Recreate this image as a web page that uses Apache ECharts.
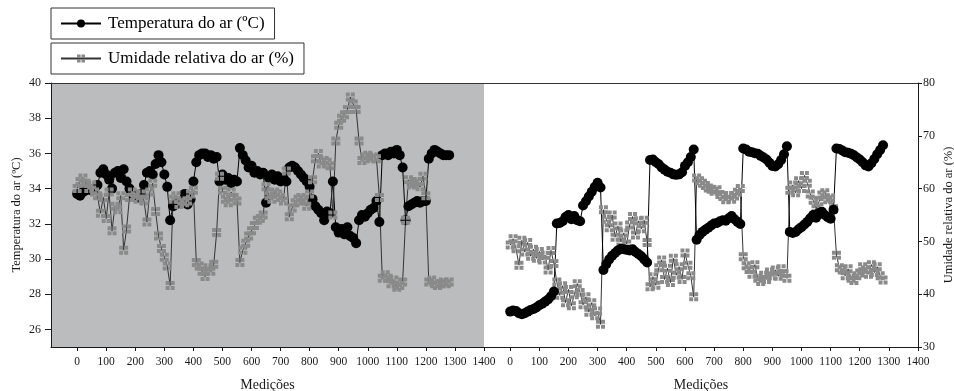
<!DOCTYPE html>
<html>
<head>
<meta charset="utf-8">
<script src="https://cdn.jsdelivr.net/npm/echarts@6/dist/echarts.min.js"></script>
<style>
  html, body { margin: 0; padding: 0; background: #fff; }
  #chart { width: 954px; height: 391px; }
</style>
</head>
<body>
<div id="chart"></div>
<script>
// measurement index (every 10th reading)
const XS = [
  0, 10, 20, 30, 40, 50, 60, 70, 80, 90,
  100, 110, 120, 130, 140, 150, 160, 170, 180, 190,
  200, 210, 220, 230, 240, 250, 260, 270, 280, 290,
  300, 310, 320, 330, 340, 350, 360, 370, 380, 390,
  400, 410, 420, 430, 440, 450, 460, 470, 480, 490,
  500, 510, 520, 530, 540, 550, 560, 570, 580, 590,
  600, 610, 620, 630, 640, 650, 660, 670, 680, 690,
  700, 710, 720, 730, 740, 750, 760, 770, 780, 790,
  800, 810, 820, 830, 840, 850, 860, 870, 880, 890,
  900, 910, 920, 930, 940, 950, 960, 970, 980, 990,
  1000, 1010, 1020, 1030, 1040, 1050, 1060, 1070, 1080, 1090,
  1100, 1110, 1120, 1130, 1140, 1150, 1160, 1170, 1180, 1190,
  1200, 1210, 1220, 1230, 1240, 1250, 1260, 1270, 1280
];

// left panel (grey), both on the left axis
const tempA = [
  33.7, 33.6, 33.8, 33.9, 34.0, 33.9, 34.0, 34.2, 34.9, 35.1,
  34.8, 34.5, 34.0, 34.9, 35.0, 34.6, 35.1, 34.4, 34.0, 33.7,
  33.6, 33.5, 33.7, 34.2, 34.9, 35.0, 34.8, 35.4, 35.9, 35.5,
  34.8, 34.1, 32.2, 33.0, 33.1, 33.2, 33.3, 33.7, 33.1, 33.4,
  34.4, 35.5, 35.9, 36.0, 36.0, 35.8, 35.9, 35.7, 35.8, 34.4,
  34.8, 34.5, 34.6, 34.3, 34.5, 34.4, 36.3, 35.9, 35.6, 35.2,
  35.3, 34.9, 35.0, 34.8, 34.9, 33.2, 34.6, 34.8, 34.5, 34.7,
  34.4, 34.6, 34.4, 35.2, 35.3, 35.2, 35.0, 34.8, 34.6, 34.4,
  34.1, 33.4, 33.0, 32.8, 32.6, 32.2, 32.7, 32.6, 34.4, 31.8,
  31.5, 31.7, 31.4, 31.8, 31.3, 31.2, 30.9, 32.2, 32.5, 32.4,
  32.6, 32.8, 32.9, 33.3, 32.1, 35.9, 36.0, 35.9, 36.1, 36.0,
  36.2, 35.9, 35.2, 32.2, 33.0, 33.1, 33.2, 33.3, 33.2, 33.3,
  33.3, 35.7, 36.0, 36.2, 36.1, 36.0, 35.9, 35.9, 35.9
];
const humA = [
  34.0, 34.4, 34.6, 34.3, 34.0, 34.2, 33.8, 33.6, 32.6, 33.5,
  32.3, 33.8, 31.6, 33.0, 32.8, 33.6, 30.5, 31.7, 33.5, 33.8,
  33.6, 33.4, 33.7, 33.3, 32.1, 33.8, 34.3, 32.7, 31.3, 30.6,
  30.1, 29.6, 28.5, 33.4, 33.6, 33.1, 33.3, 33.2, 33.3, 33.7,
  33.9, 29.8, 29.6, 29.3, 29.0, 29.5, 29.3, 29.7, 31.5, 34.7,
  33.9, 33.4, 33.2, 33.8, 33.5, 33.3, 29.8, 30.5, 30.9, 31.3,
  31.6, 31.9, 32.2, 32.3, 32.5, 34.1, 33.6, 33.4, 33.8, 33.7,
  33.5, 33.3, 35.0, 32.4, 32.9, 33.2, 33.4, 33.5, 33.3, 33.0,
  33.7, 34.5, 35.7, 36.0, 35.4, 35.6, 35.5, 35.3, 32.5, 36.7,
  37.6, 38.0, 38.2, 38.5, 39.2, 38.8, 38.5, 36.7, 35.6, 35.8,
  35.9, 35.7, 35.8, 35.7, 33.5, 28.9, 29.1, 28.9, 28.6, 28.8,
  28.4, 28.5, 28.7, 32.2, 34.5, 34.2, 34.3, 34.4, 34.1, 34.7,
  33.6, 28.7, 28.8, 28.6, 28.5, 28.6, 28.7, 28.6, 28.7
];

// right panel (white), both on the right axis
const tempB = [
  36.7, 36.9, 36.8, 36.4, 36.2, 36.4, 36.7, 37.0, 37.2, 37.5,
  37.9, 38.2, 38.6, 39.0, 39.6, 40.5, 53.4, 53.5, 53.8, 54.6,
  55.0, 54.2, 54.8, 54.0, 53.8, 56.8, 57.6, 58.5, 59.4, 60.3,
  61.1, 60.2, 44.6, 45.7, 46.6, 47.3, 47.8, 48.3, 48.6, 48.5,
  48.4, 48.3, 48.5, 48.0, 47.6, 47.2, 46.6, 46.0, 65.4, 65.5,
  65.0, 64.6, 64.0, 63.6, 63.2, 63.0, 62.7, 62.6, 62.7, 63.1,
  64.3, 65.0, 66.0, 67.4, 50.3, 51.2, 51.8, 52.2, 52.6, 53.0,
  53.4, 53.5, 53.8, 54.0, 53.9, 54.4, 54.8, 54.2, 53.7, 53.3,
  67.6, 67.4, 67.0, 66.9, 66.7, 66.6, 66.2, 65.9, 65.5, 64.9,
  64.3, 64.2, 64.6, 65.4, 66.5, 68.0, 51.8, 51.6, 51.8, 52.3,
  52.7, 53.2, 53.7, 54.4, 55.0, 54.5, 55.4, 55.6, 55.0, 54.6,
  54.3, 56.0, 67.6, 67.5, 67.2, 66.9, 66.8, 66.6, 66.3, 65.9,
  65.5, 65.0, 64.4, 64.2, 64.8, 65.6, 66.5, 67.3, 68.2
];
const humB = [
  49.3, 50.5, 48.6, 45.5, 50.2, 48.0, 49.8, 47.2, 48.5, 46.8,
  48.1, 46.5, 47.4, 44.6, 48.3, 45.8, 42.3, 39.8, 41.6, 38.4,
  40.9, 37.8, 39.9, 42.0, 40.3, 38.0, 39.5, 36.6, 38.4, 35.9,
  36.8, 34.3, 56.0, 54.2, 52.6, 55.0, 50.8, 52.9, 49.9, 51.6,
  49.5, 53.1, 54.7, 51.2, 53.9, 52.4, 54.0, 49.8, 41.4, 43.3,
  41.7, 45.0, 46.5, 42.8, 44.9, 42.2, 46.8, 43.6, 45.2, 42.8,
  47.8, 45.5, 43.5, 39.5, 62.0, 61.5, 61.0, 60.6, 60.1, 59.9,
  59.5, 59.8, 58.9, 58.5, 57.9, 58.7, 58.0, 58.6, 59.3, 60.0,
  47.1, 45.4, 44.7, 43.8, 45.6, 43.0, 42.4, 43.6, 42.8, 44.2,
  43.5, 44.6, 43.4, 44.8, 43.9, 43.0, 59.7, 60.7, 59.2, 61.5,
  60.0, 62.5, 61.0, 59.0, 57.8, 56.2, 57.5, 58.8, 59.2, 57.9,
  58.2, 56.2, 47.4, 45.0, 44.6, 43.5, 44.8, 43.0, 42.6, 43.5,
  44.0, 45.2, 44.6, 43.8, 45.6, 44.1, 45.2, 43.5, 42.7
];

const X_TICKS = [0, 100, 200, 300, 400, 500, 600, 700, 800, 900, 1000, 1100, 1200, 1300, 1400];
const Y_LEFT_TICKS = [26, 28, 30, 32, 34, 36, 38, 40];

const TEMP_NAME = 'Temperatura do ar (ºC)';
const HUM_NAME = 'Umidade relativa do ar (%)';

const serif = "'Liberation Serif', 'Times New Roman', serif";
const ink = '#1a1a1a';
// grey square split in four cells, like the original marker
const squareIcon = 'path://M0,0H4V4H0Z M5,0H9V4H5Z M0,5H4V9H0Z M5,5H9V9H5Z';
const plain = (v) => String(v);

const pairs = (ys) => XS.map((x, i) => [x, ys[i]]);

function bottomAxis(grid) {
  return {
    gridIndex: grid, type: 'value', position: 'bottom', min: -90, max: 1400,
    name: 'Medições', nameLocation: 'middle', nameGap: 31,
    nameTextStyle: { fontFamily: serif, fontSize: 14, color: ink },
    axisLine: { show: true, onZero: false, lineStyle: { color: ink, width: 1 } },
    axisTick: { show: true, customValues: X_TICKS, length: 4, lineStyle: { color: ink } },
    axisLabel: { customValues: X_TICKS, formatter: plain, fontFamily: serif, fontSize: 11.5, color: ink, margin: 9 },
    splitLine: { show: false }
  };
}

function topAxis(grid) {
  return {
    gridIndex: grid, type: 'value', position: 'top', min: -90, max: 1400,
    axisLine: { show: true, onZero: false, lineStyle: { color: '#333', width: 1 } },
    axisTick: { show: false }, axisLabel: { show: false }, splitLine: { show: false }
  };
}

function lineSeries(name, xi, yi, ys, isTemp) {
  return {
    name, type: 'line', xAxisIndex: xi, yAxisIndex: yi,
    data: pairs(ys),
    showAllSymbol: true,
    symbol: isTemp ? 'circle' : squareIcon,
    symbolSize: isTemp ? 10 : 9,
    lineStyle: { color: isTemp ? '#000' : '#333', width: 1 },
    itemStyle: { color: isTemp ? '#000' : '#8a8a8a' },
    emphasis: { disabled: true },
    animation: false
  };
}

function legendBox(name, top) {
  return {
    data: [name], left: 51, top, orient: 'horizontal',
    selectedMode: false,
    itemWidth: 40, itemHeight: 10,
    padding: [7, 10, 7, 9],
    borderColor: '#333', borderWidth: 1,
    textStyle: { fontFamily: serif, fontSize: 17, color: '#000', padding: [0, 0, 0, 2] }
  };
}

const chart = echarts.init(document.getElementById('chart'), null, { renderer: 'canvas' });
chart.setOption({
  backgroundColor: '#fff',
  animation: false,
  legend: [legendBox(TEMP_NAME, 8), legendBox(HUM_NAME, 43)],
  grid: [
    { left: 51, top: 83, width: 433, height: 264, show: true, backgroundColor: '#babcbd', borderWidth: 0, outerBoundsMode: 'none' },
    { left: 484, top: 83, width: 434, height: 264, show: true, backgroundColor: '#fff', borderWidth: 0, outerBoundsMode: 'none' }
  ],
  xAxis: [bottomAxis(0), bottomAxis(1), topAxis(0), topAxis(1)],
  yAxis: [
    {
      gridIndex: 0, type: 'value', position: 'left', min: 25, max: 40,
      name: TEMP_NAME, nameLocation: 'middle', nameGap: 28,
      nameTextStyle: { fontFamily: serif, fontSize: 12.5, color: ink },
      axisLine: { show: true, onZero: false, lineStyle: { color: ink, width: 1 } },
      axisTick: { show: true, customValues: Y_LEFT_TICKS, length: 6, lineStyle: { color: ink } },
      axisLabel: { customValues: Y_LEFT_TICKS, formatter: plain, fontFamily: serif, fontSize: 12, color: ink, margin: 10 },
      splitLine: { show: false }
    },
    {
      gridIndex: 1, type: 'value', position: 'right', min: 30, max: 80, interval: 10,
      name: HUM_NAME, nameLocation: 'middle', nameGap: 24,
      nameTextStyle: { fontFamily: serif, fontSize: 12.5, color: ink },
      axisLine: { show: true, onZero: false, lineStyle: { color: ink, width: 1 } },
      axisTick: { show: true, length: 4, lineStyle: { color: ink } },
      axisLabel: { formatter: plain, fontFamily: serif, fontSize: 12, color: ink, margin: 5 },
      splitLine: { show: false }
    }
  ],
  series: [
    lineSeries(TEMP_NAME, 0, 0, tempA, true),
    lineSeries(HUM_NAME, 0, 0, humA, false),
    lineSeries(HUM_NAME, 1, 1, humB, false),
    lineSeries(TEMP_NAME, 1, 1, tempB, true)
  ]
});
</script>
</body>
</html>
